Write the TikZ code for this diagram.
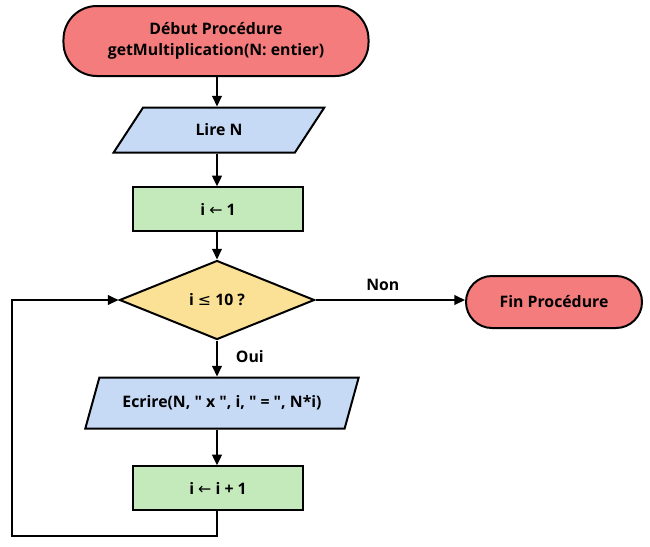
\documentclass[tikz,border=0pt]{standalone}
\usepackage{fontspec}
\setmainfont{Open Sans}
\newfontfamily\symfont{DejaVu Sans}
\usepackage{tikz}
\usetikzlibrary{positioning, arrows.meta, shapes.geometric}
\definecolor{redColor}{RGB}{245, 124, 124}
\definecolor{blueColor}{RGB}{198, 217, 245}
\definecolor{greenColor}{RGB}{196, 234, 188}
\definecolor{yellowColor}{RGB}{250, 225, 150}
\newcommand{\fleche}{{\symfont\mdseries\char"2190}}
\newcommand{\infeg}{{\symfont\mdseries\char"2264}}
\newcommand{\guil}{\textquotedbl}

\begin{document}
\begin{tikzpicture}[
        x=0.03cm, y=-0.03cm,
        every node/.style={font=\fontsize{13.5}{18}\selectfont\bfseries},
        terminal/.style={
            rectangle,
            rounded corners=1cm,
            draw=black,
            line width=1.7pt,
            fill=redColor,
            align=center
        },
        entree/.style={
            trapezium,
            trapezium left angle=62,
            trapezium right angle=118,
            trapezium stretches=true,
            draw=black,
            line width=1.7pt,
            fill=blueColor,
            align=center
        },
        action/.style={
            rectangle,
            draw=black,
            line width=1.7pt,
            fill=greenColor,
            minimum width=5.1cm,
            minimum height=1.3cm,
            align=center
        },
        test/.style={
            diamond,
            aspect=2.45,
            draw=black,
            line width=1.7pt,
            fill=yellowColor,
            inner sep=0pt,
            minimum width=5.85cm,
            minimum height=2.37cm
        },
        flecha/.style={
            -{Triangle[length=3.2mm, width=2.9mm]},
            line width=1.7pt
        }
    ]

    \useasboundingbox (0,0) rectangle (650,546);

    \node[terminal, minimum width=9.15cm, minimum height=2.1cm] (debut) at (216,41) {Début Procédure\\getMultiplication(N: entier)};
    \node[entree, minimum width=6.33cm, minimum height=1.35cm] (lire) at (219,130) {Lire N};
    \node[action] (init) at (218,209) {i \fleche\ 1};
    \node[test] (cond) at (217,300) {i \infeg\ 10 ?};
    \node[terminal, minimum width=5.28cm, minimum height=1.56cm, rounded corners=0.78cm] (fin) at (554,302) {Fin Procédure};
    \node[entree, minimum width=8.22cm, minimum height=1.53cm] (ecrire) at (222,403) {Ecrire(N, \guil\ x \guil, i, \guil\ = \guil, N*i)};
    \node[action] (incr) at (218,488) {i \fleche\ i + 1};
    \coordinate (basG) at (12,536);

    \draw[flecha] (debut.south -| cond.north) -- (lire.north -| cond.north);
    \draw[flecha] (lire.south -| cond.north) -- (init.north -| cond.north);
    \draw[flecha] (init.south -| cond.north) -- (cond.north);
    \draw[flecha] (cond.east) -- node[above=4pt, pos=0.45] {Non} (cond.east -| fin.west);
    \draw[flecha] (cond.south) -- node[right=12pt, pos=0.45] {Oui} (ecrire.north -| cond.south);
    \draw[flecha] (ecrire.south -| cond.south) -- (incr.north -| cond.south);
    \draw[flecha] (incr.south -| cond.south) |- (basG) |- (cond.west);

    \end{tikzpicture}
\end{document}
